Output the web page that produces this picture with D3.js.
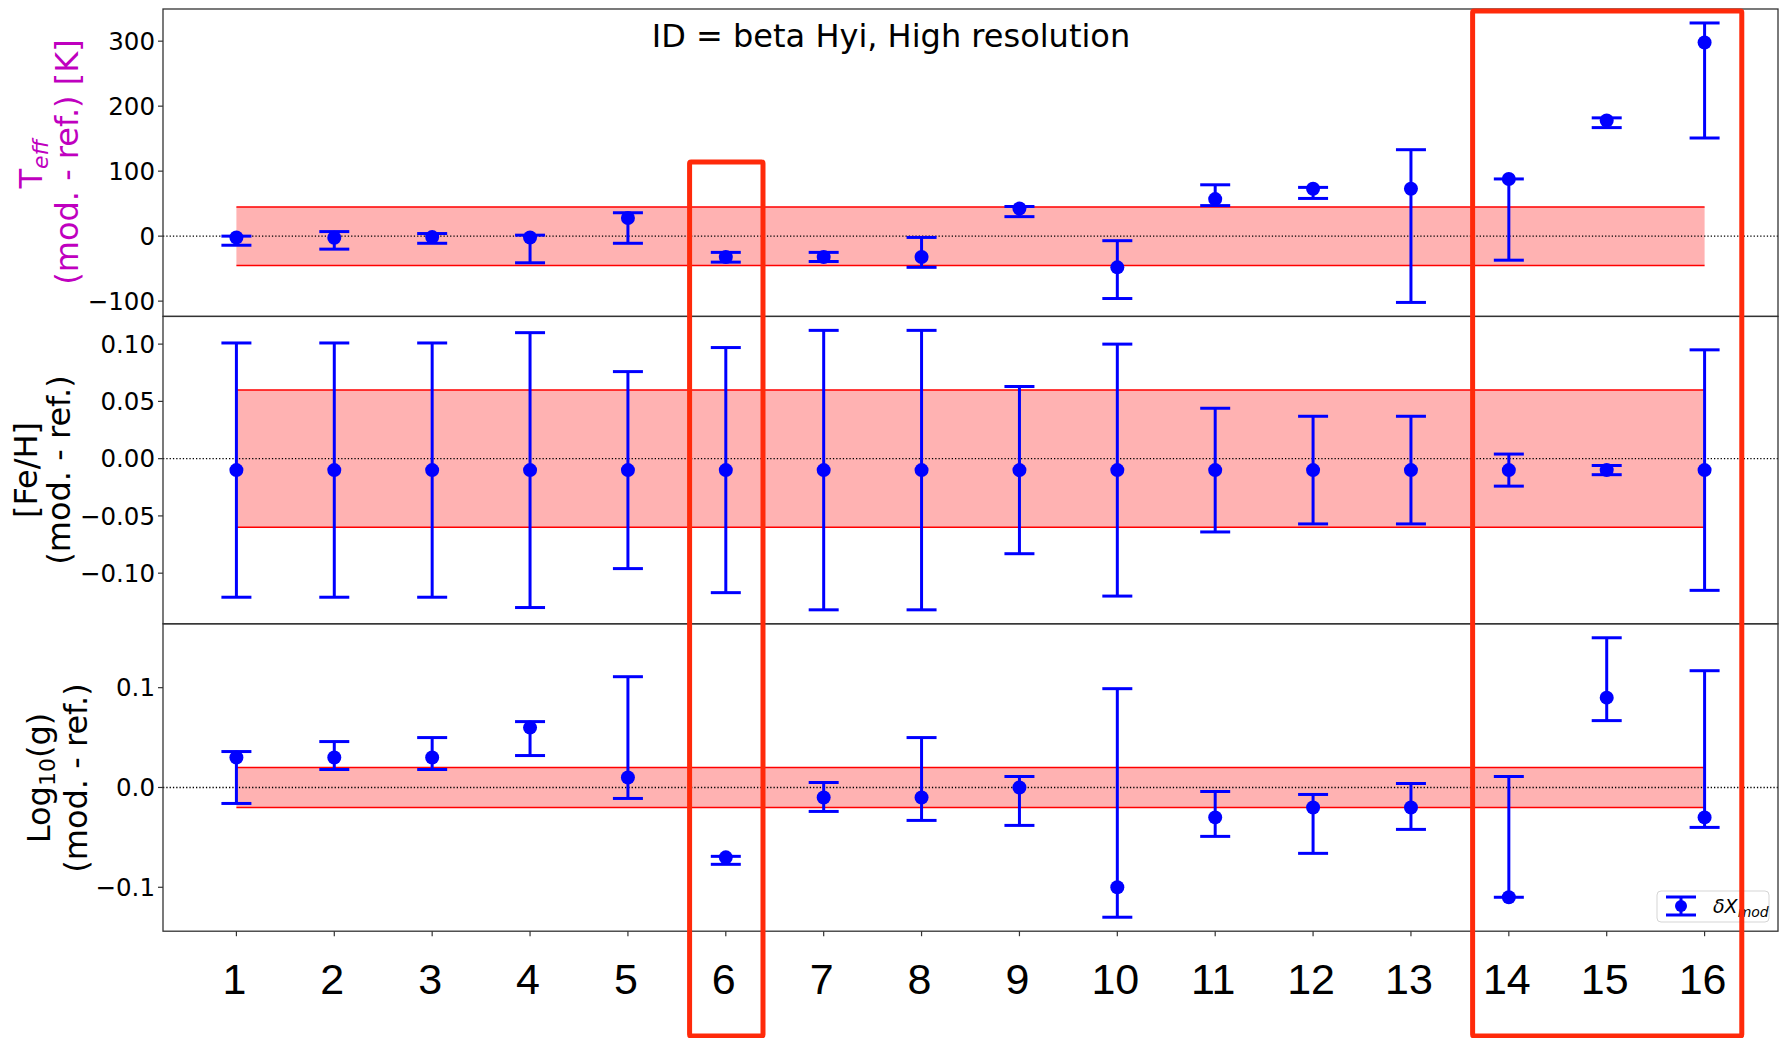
<!DOCTYPE html>
<meta charset="utf-8">
<html>
<script src="https://d3js.org/d3.v7.min.js"></script>
<style>
  body { margin: 0; background: #fff; }
  text { font-family: "DejaVu Sans", sans-serif; }
</style>
<div id="chart"></div>
<script>

// star index along the x axis
var ids = [1, 2, 3, 4, 5, 6, 7, 8, 9, 10, 11, 12, 13, 14, 15, 16];

// Teff (mod. - ref.) [K] with lower / upper ends of the error bars
var teff   = [-2, -2.5, -1.5, -2, 28, -32, -32, -32, 42.5, -48, 57, 73, 73, 88, 178, 298];
var teffLo = [-14, -20, -11, -41, -11, -40, -39, -48, 30, -96, 47, 58, -102, -37, 167, 151];
var teffHi = [0, 7, 4, 1.5, 36, -25, -25, -2, 45.6, -7, 79, 75, 133, 88, 182, 328];

// [Fe/H] (mod. - ref.)
var feh   = [-0.01, -0.01, -0.01, -0.01, -0.01, -0.01, -0.01, -0.01, -0.01, -0.01, -0.01, -0.01, -0.01, -0.01, -0.01, -0.01];
var fehLo = [-0.121, -0.121, -0.121, -0.130, -0.096, -0.117, -0.132, -0.132, -0.083, -0.120, -0.064, -0.057, -0.057, -0.024, -0.014, -0.115];
var fehHi = [0.101, 0.101, 0.101, 0.110, 0.076, 0.097, 0.112, 0.112, 0.063, 0.100, 0.044, 0.037, 0.037, 0.004, -0.006, 0.095];

// Log10(g) (mod. - ref.)
var logg   = [0.03, 0.03, 0.03, 0.06, 0.01, -0.07, -0.01, -0.01, 0, -0.1, -0.03, -0.02, -0.02, -0.11, 0.09, -0.03];
var loggLo = [-0.016, 0.018, 0.018, 0.032, -0.011, -0.077, -0.024, -0.033, -0.038, -0.13, -0.049, -0.066, -0.042, -0.11, 0.067, -0.04];
var loggHi = [0.036, 0.046, 0.05, 0.066, 0.111, -0.069, 0.005, 0.050, 0.011, 0.099, -0.004, -0.007, 0.004, 0.011, 0.15, 0.117];

// half width of the shaded tolerance band
var bands = [45, 0.06, 0.02];

// y tick values
var teffTicks = [-100, 0, 100, 200, 300];
var fehTicks = [-0.10, -0.05, 0.00, 0.05, 0.10];
var loggTicks = [-0.1, 0.0, 0.1];

// columns outlined in red
var highlights = [[6, 6], [14, 16]];

var width = 1789,
    height = 1038,
    left = 163,
    right = 1778,
    top0 = 9,
    panelH = 307.4;

var svg = d3.select("#chart")
  .append("svg")
    .attr("width", width)
    .attr("height", height);

// x domain with matplotlib style 5% margins
var span = d3.max(ids) - d3.min(ids);
var x = d3.scaleLinear()
  .domain([d3.min(ids) - span * 0.05, d3.max(ids) + span * 0.05])
  .range([left, right]);

var minus = function(s) { return s.replace("-", "\u2212"); };

var panels = [
  {val: teff, lo: teffLo, hi: teffHi, band: bands[0], ticks: teffTicks, fmt: d3.format(".0f")},
  {val: feh, lo: fehLo, hi: fehHi, band: bands[1], ticks: fehTicks, fmt: d3.format(".2f")},
  {val: logg, lo: loggLo, hi: loggHi, band: bands[2], ticks: loggTicks, fmt: d3.format(".1f")}
];

panels.forEach(function(p, k) {
  var y0 = top0 + k * panelH;
  var mn = d3.min(p.lo), mx = d3.max(p.hi), pad = (mx - mn) * 0.05;
  var y = d3.scaleLinear().domain([mn - pad, mx + pad]).range([y0 + panelH, y0]);
  var g = svg.append("g");

  // tolerance band
  g.append("rect")
    .attr("x", x(1))
    .attr("width", x(16) - x(1))
    .attr("y", y(p.band))
    .attr("height", y(-p.band) - y(p.band))
    .attr("fill", "#ffb2b2");
  [p.band, -p.band].forEach(function(b) {
    g.append("line")
      .attr("x1", x(1)).attr("x2", x(16))
      .attr("y1", y(b)).attr("y2", y(b))
      .attr("stroke", "#ff0000")
      .attr("stroke-width", 1.5);
  });

  // zero line
  g.append("line")
    .attr("x1", left).attr("x2", right)
    .attr("y1", y(0)).attr("y2", y(0))
    .attr("stroke", "#000")
    .attr("stroke-width", 1.3)
    .attr("stroke-dasharray", "1.3,2");

  // error bars
  var d = ids.map(function(id, i) { return {id: id, v: p.val[i], lo: p.lo[i], hi: p.hi[i]}; });
  var eb = g.selectAll(".eb").data(d).enter().append("g").attr("class", "eb");
  eb.append("line")
    .attr("x1", function(e) { return x(e.id); })
    .attr("x2", function(e) { return x(e.id); })
    .attr("y1", function(e) { return y(e.lo); })
    .attr("y2", function(e) { return y(e.hi); })
    .attr("stroke", "#0000ff").attr("stroke-width", 3);
  ["lo", "hi"].forEach(function(end) {
    eb.append("line")
      .attr("x1", function(e) { return x(e.id) - 15; })
      .attr("x2", function(e) { return x(e.id) + 15; })
      .attr("y1", function(e) { return y(e[end]); })
      .attr("y2", function(e) { return y(e[end]); })
      .attr("stroke", "#0000ff").attr("stroke-width", 3);
  });
  eb.append("circle")
    .attr("cx", function(e) { return x(e.id); })
    .attr("cy", function(e) { return y(e.v); })
    .attr("r", 7)
    .attr("fill", "#0000ff");

  // y axis ticks
  var yt = g.selectAll(".yt").data(p.ticks).enter().append("g").attr("class", "yt");
  yt.append("line")
    .attr("x1", left - 5).attr("x2", left)
    .attr("y1", function(t) { return y(t); })
    .attr("y2", function(t) { return y(t); })
    .attr("stroke", "#333").attr("stroke-width", 1.2);
  yt.append("text")
    .attr("x", left - 8)
    .attr("y", function(t) { return y(t); })
    .attr("dy", "0.36em")
    .attr("text-anchor", "end")
    .style("font-size", "24.5px")
    .text(function(t) { return minus(p.fmt(t)); });

  // frame
  g.append("rect")
    .attr("x", left).attr("y", y0)
    .attr("width", right - left).attr("height", panelH)
    .attr("fill", "none")
    .attr("stroke", "#333").attr("stroke-width", 1.3);
});

// x ticks on the bottom panel
var yb = top0 + 3 * panelH;
svg.selectAll(".xt").data(ids).enter().append("line")
  .attr("x1", function(d) { return x(d); })
  .attr("x2", function(d) { return x(d); })
  .attr("y1", yb).attr("y2", yb + 5)
  .attr("stroke", "#333").attr("stroke-width", 1.2);

svg.selectAll(".xl").data(ids).enter().append("text")
  .attr("x", function(d) { return x(d) - 2; })
  .attr("y", 994)
  .attr("text-anchor", "middle")
  .style("font-family", "'Liberation Sans', Arial, sans-serif")
  .style("font-size", "43px")
  .text(function(d) { return d; });

// y labels
function ylabel(cx, cy, color) {
  return svg.append("text")
    .attr("transform", "translate(" + cx + "," + cy + ") rotate(-90)")
    .attr("text-anchor", "middle")
    .attr("fill", color)
    .style("font-size", "32px");
}
var l1 = ylabel(42, 164, "#bf00bf");
l1.append("tspan").text("T");
l1.append("tspan").attr("dy", 6).style("font-size", "22px").style("font-style", "italic").text("eff");
ylabel(78, 162, "#bf00bf").text("(mod. - ref.) [K]");

ylabel(37, 470, "#000").text("[Fe/H]");
ylabel(70, 470, "#000").text("(mod. - ref.)");

var l3 = ylabel(50, 778, "#000");
l3.append("tspan").text("Log");
l3.append("tspan").attr("dy", 5).style("font-size", "22px").text("10");
l3.append("tspan").attr("dy", -5).text("(g)");
ylabel(87, 778, "#000").text("(mod. - ref.)");

// title
svg.append("text")
  .attr("x", 891).attr("y", 47)
  .attr("text-anchor", "middle")
  .style("font-size", "32px")
  .text("ID = beta Hyi, High resolution");

// legend
var lg = svg.append("g");
lg.append("rect")
  .attr("x", 1657).attr("y", 891)
  .attr("width", 112).attr("height", 31)
  .attr("rx", 4)
  .attr("fill", "#fff").attr("fill-opacity", 0.8)
  .attr("stroke", "#d5d5d5");
lg.append("line").attr("x1", 1681).attr("x2", 1681).attr("y1", 897).attr("y2", 915)
  .attr("stroke", "#0000ff").attr("stroke-width", 3);
[897, 915].forEach(function(cy) {
  lg.append("line").attr("x1", 1666).attr("x2", 1696).attr("y1", cy).attr("y2", cy)
    .attr("stroke", "#0000ff").attr("stroke-width", 3);
});
lg.append("circle").attr("cx", 1681).attr("cy", 906).attr("r", 6).attr("fill", "#0000ff");
var lt = lg.append("text")
  .attr("x", 1713).attr("y", 913)
  .style("font-size", "19px").style("font-style", "italic");
lt.append("tspan").text("\u03b4X");
lt.append("tspan").attr("dy", 4).style("font-size", "14px").text("mod");

// red highlight boxes
var boxTops = [162, 11];
highlights.forEach(function(h, i) {
  svg.append("rect")
    .attr("x", x(h[0] - 0.37))
    .attr("y", boxTops[i])
    .attr("width", x(h[1] + 0.38) - x(h[0] - 0.37))
    .attr("height", 1036 - boxTops[i])
    .attr("fill", "none")
    .attr("stroke", "#ff2a0a")
    .attr("stroke-width", 5)
    .attr("rx", 1.5);
});

</script>
</html>
